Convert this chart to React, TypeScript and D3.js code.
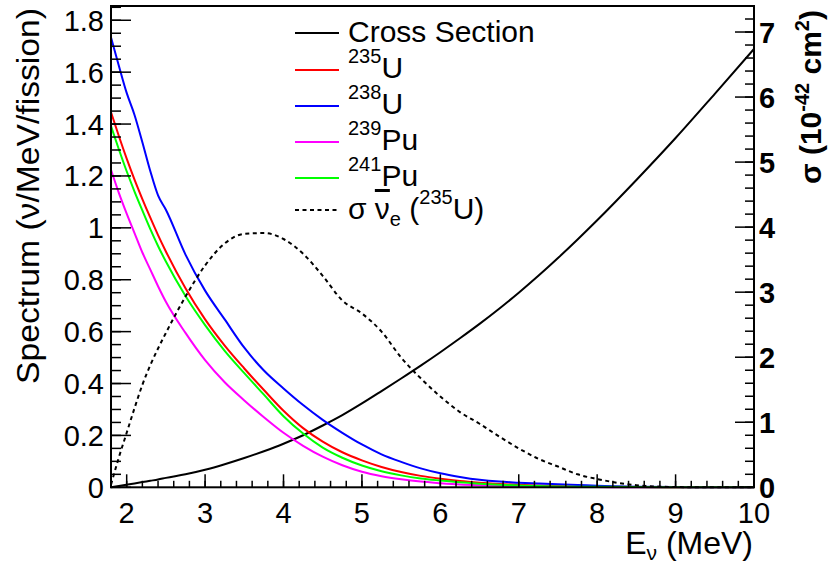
import React from "react";
import * as d3 from "d3";

// energy grid (MeV)
const energy = [1.8, 1.9, 2.0, 2.1, 2.2, 2.3, 2.4, 2.5, 2.75, 3, 3.25, 3.5, 3.75, 4, 4.25, 4.5, 4.75, 5, 5.25, 5.5, 5.75, 6, 6.25, 6.5, 6.75, 7, 7.25, 7.5, 7.75, 8, 8.5, 9, 9.5, 10];

// spectra (nu/MeV/fission)
const u235 = [1.446, 1.354, 1.267, 1.186, 1.111, 1.04, 0.972, 0.909, 0.767, 0.647, 0.546, 0.458, 0.375, 0.295, 0.228, 0.176, 0.135, 0.104, 0.0785, 0.059, 0.044, 0.033, 0.024, 0.0178, 0.013, 0.0096, 0.007, 0.005, 0.0035, 0.0024, 0.001, 0.0003, 0, 0];
const u238 = [1.734, 1.625, 1.52, 1.435, 1.33, 1.22, 1.125, 1.07, 0.897, 0.758, 0.647, 0.538, 0.45, 0.381, 0.317, 0.26, 0.21, 0.165, 0.127, 0.098, 0.073, 0.054, 0.04, 0.029, 0.022, 0.018, 0.0145, 0.0115, 0.009, 0.006, 0.0025, 0.0008, 0.0002, 0];
const pu239 = [1.224, 1.135, 1.055, 0.98, 0.905, 0.84, 0.775, 0.715, 0.595, 0.49, 0.405, 0.335, 0.27, 0.21, 0.16, 0.118, 0.085, 0.06, 0.043, 0.031, 0.022, 0.016, 0.011, 0.008, 0.006, 0.004, 0.003, 0.002, 0.0014, 0.001, 0, 0, 0, 0];
const pu241 = [1.392, 1.303, 1.218, 1.14, 1.067, 0.996, 0.93, 0.87, 0.737, 0.625, 0.526, 0.44, 0.357, 0.274, 0.207, 0.153, 0.114, 0.084, 0.062, 0.046, 0.034, 0.026, 0.019, 0.014, 0.01, 0.007, 0.005, 0.0035, 0.0025, 0.0017, 0.0007, 0.0002, 0, 0];
// cross section (1e-42 cm2), right axis
const crossSection = [0, 0.02, 0.04, 0.06, 0.08, 0.1, 0.12, 0.145, 0.2, 0.27, 0.355, 0.45, 0.555, 0.67, 0.8, 0.95, 1.11, 1.29, 1.48, 1.673, 1.871, 2.077, 2.291, 2.512, 2.745, 2.991, 3.251, 3.525, 3.81, 4.105, 4.725, 5.37, 6.05, 6.74];
// sigma x spectrum 235U (left axis)
const sigmaU235 = [0.01, 0.115, 0.21, 0.305, 0.395, 0.47, 0.535, 0.595, 0.735, 0.855, 0.94, 0.977, 0.98, 0.957, 0.9, 0.815, 0.72, 0.67, 0.6, 0.5, 0.42, 0.35, 0.29, 0.245, 0.196, 0.15, 0.11, 0.08, 0.05, 0.032, 0.008, 0.001, 0, 0];

const xTicks = [2, 3, 4, 5, 6, 7, 8, 9, 10];
const leftTicks = [0, 0.2, 0.4, 0.6, 0.8, 1, 1.2, 1.4, 1.6, 1.8];
const rightTicks = [0, 1, 2, 3, 4, 5, 6, 7];

const font = "Liberation Sans, Arial, Helvetica, sans-serif";

export default function App() {
  const left = 111, right = 754, top = 6, bottom = 487.3;
  const x = d3.scaleLinear().domain([1.8, 10]).range([left, right]);
  const yL = d3.scaleLinear().domain([0, 1.855]).range([bottom, top]);
  const yR = d3.scaleLinear().domain([0, 7.4]).range([bottom, top]);

  const lineL = (vals: number[]) =>
    d3.line<number>().x((_, i) => x(energy[i])).y((d) => yL(d)).curve(d3.curveMonotoneX)(vals) || "";
  const lineR = (vals: number[]) =>
    d3.line<number>().x((_, i) => x(energy[i])).y((d) => yR(d)).curve(d3.curveMonotoneX)(vals) || "";

  const xMinor = d3.range(0, 42).map((i) => 1.8 + i * 0.2);
  const lMinor = d3.range(0, 38).map((i) => i * 0.05);
  const rMinor = d3.range(0, 38).map((i) => i * 0.2);

  const spectra = [
    { label: "235", el: "U", vals: u235, color: "#ff0000" },
    { label: "238", el: "U", vals: u238, color: "#0000ff" },
    { label: "239", el: "Pu", vals: pu239, color: "#ff00ff" },
    { label: "241", el: "Pu", vals: pu241, color: "#00ff00" },
  ];

  const legX1 = 295, legX2 = 339, legTx = 348;
  const rows = [33, 70, 106, 142, 178, 210];

  return (
    <svg width={831} height={565} style={{ position: "absolute", left: 0, top: 0, background: "#fff" }} fontFamily={font}>
      <rect width={831} height={565} fill="#fff" />
      {/* curves */}
      <path d={lineR(crossSection)} fill="none" stroke="#000" strokeWidth={2} />
      {spectra.map((s) => (
        <path key={s.label} d={lineL(s.vals)} fill="none" stroke={s.color} strokeWidth={2} />
      ))}
      <path d={lineL(sigmaU235)} fill="none" stroke="#000" strokeWidth={2} strokeDasharray="4,3.5" />

      {/* frame */}
      <rect x={left} y={top} width={right - left} height={bottom - top} fill="none" stroke="#000" strokeWidth={2} />

      {/* x axis ticks */}
      {xMinor.filter((v) => v <= 10.001).map((v, i) => (
        <line key={"xm" + i} x1={x(v)} x2={x(v)} y1={bottom} y2={bottom - 6.5} stroke="#000" strokeWidth={1.5} />
      ))}
      {xTicks.map((v) => (
        <g key={"xt" + v}>
          <line x1={x(v)} x2={x(v)} y1={bottom} y2={bottom - 13} stroke="#000" strokeWidth={1.5} />
          <text x={x(v)} y={523} fontSize={29} textAnchor="middle">{v}</text>
        </g>
      ))}

      {/* left axis */}
      {lMinor.filter((v) => v <= 1.855).map((v, i) => (
        <line key={"lm" + i} x1={left} x2={left + 10} y1={yL(v)} y2={yL(v)} stroke="#000" strokeWidth={1.5} />
      ))}
      {leftTicks.map((v) => (
        <g key={"lt" + v}>
          <line x1={left} x2={left + 20} y1={yL(v)} y2={yL(v)} stroke="#000" strokeWidth={1.5} />
          <text x={104} y={yL(v) + 10.5} fontSize={29} textAnchor="end">{d3.format("")(v)}</text>
        </g>
      ))}

      {/* right axis */}
      {rMinor.filter((v) => v <= 7.4).map((v, i) => (
        <line key={"rm" + i} x1={right} x2={right - 9} y1={yR(v)} y2={yR(v)} stroke="#000" strokeWidth={1.5} />
      ))}
      {rightTicks.map((v) => (
        <g key={"rt" + v}>
          <line x1={right} x2={right - 19} y1={yR(v)} y2={yR(v)} stroke="#000" strokeWidth={1.5} />
          <text x={759} y={yR(v) + 10.5} fontSize={29} fontWeight="bold">{v}</text>
        </g>
      ))}

      {/* axis titles */}
      <text x={753} y={554} fontSize={32} textAnchor="end">
        E<tspan fontSize={21} dy={6}>ν</tspan><tspan dy={-6}> (MeV)</tspan>
      </text>
      <text transform="translate(39,8) rotate(-90)" fontSize={31} textAnchor="end" textLength={376} lengthAdjust="spacingAndGlyphs">
        Spectrum (ν/MeV/fission)
      </text>
      <text transform="translate(821,10) rotate(-90)" fontSize={30} fontWeight="bold" textAnchor="end">
        σ (10<tspan fontSize={20} dy={-12}>-42</tspan><tspan dy={12}> cm</tspan><tspan fontSize={20} dy={-12}>2</tspan><tspan dy={12}>)</tspan>
      </text>

      {/* legend */}
      <line x1={legX1} x2={legX2} y1={rows[0]} y2={rows[0]} stroke="#000" strokeWidth={2} />
      <text x={legTx} y={rows[0] + 9} fontSize={30}>Cross Section</text>
      {spectra.map((s, i) => (
        <g key={"lg" + s.label}>
          <line x1={legX1} x2={legX2} y1={rows[i + 1]} y2={rows[i + 1]} stroke={s.color} strokeWidth={2} />
          <text x={legTx} y={rows[i + 1] + 8} fontSize={30}>
            <tspan fontSize={20} dy={-15}>{s.label}</tspan>
            <tspan dy={15}>{s.el}</tspan>
          </text>
        </g>
      ))}
      <line x1={legX1} x2={legX2} y1={rows[5]} y2={rows[5]} stroke="#000" strokeWidth={2} strokeDasharray="4,3.5" />
      <text x={legTx} y={rows[5] + 9} fontSize={30}>
        σ <tspan style={{ textDecoration: "overline" }}>ν</tspan>
        <tspan fontSize={20} dy={7}>e</tspan>
        <tspan dy={-7}> (</tspan>
        <tspan fontSize={20} dy={-15}>235</tspan>
        <tspan dy={15}>U)</tspan>
      </text>
    </svg>
  );
}
